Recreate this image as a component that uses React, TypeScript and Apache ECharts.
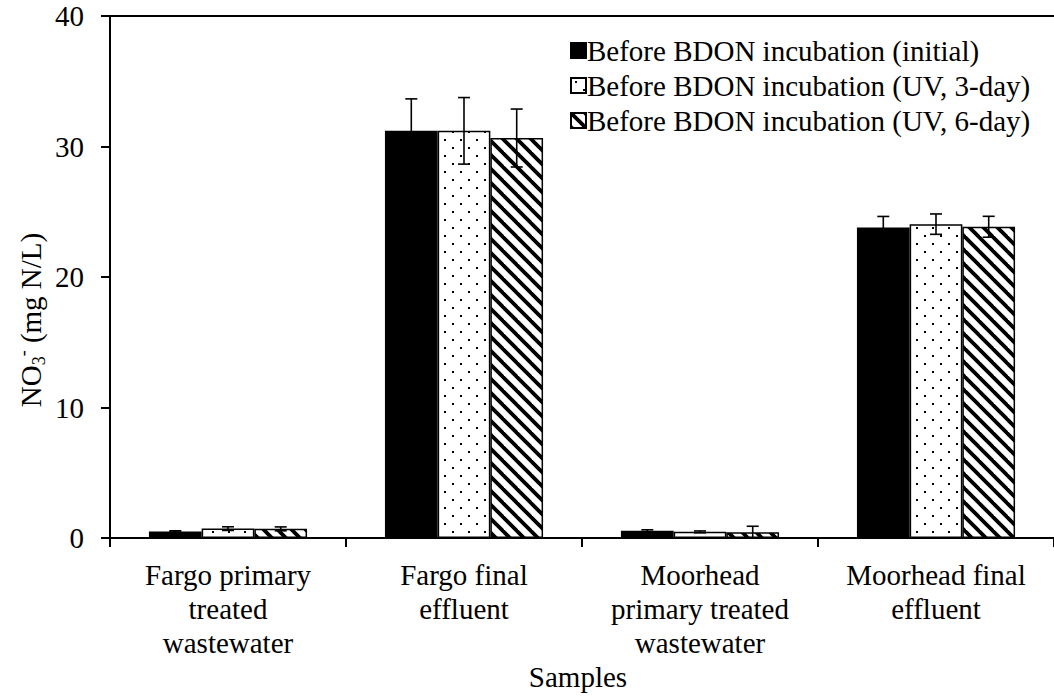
import React, { useEffect, useRef } from "react";
import * as echarts from "echarts";

const categories = [
  "Fargo primary\ntreated\nwastewater",
  "Fargo final\neffluent",
  "Moorhead\nprimary treated\nwastewater",
  "Moorhead final\neffluent",
];
const seriesNames = [
  "Before BDON incubation (initial)",
  "Before BDON incubation (UV, 3-day)",
  "Before BDON incubation (UV, 6-day)",
];
const initialValues = [0.5, 31.2, 0.55, 23.8];
const initialErrors = [0.05, 2.45, 0.08, 0.84];
const uv3Values = [0.72, 31.2, 0.47, 24.05];
const uv3Errors = [0.14, 2.55, 0.07, 0.78];
const uv6Values = [0.7, 30.65, 0.45, 23.85];
const uv6Errors = [0.15, 2.22, 0.45, 0.8];
const yTicks = { min: 0, max: 40, interval: 10 };

const FONT = '"Liberation Serif", "Times New Roman", serif';
const FS = 29;

function makeDots(): HTMLCanvasElement {
  const c = document.createElement("canvas");
  c.width = 16;
  c.height = 16;
  const g = c.getContext("2d")!;
  g.fillStyle = "#ffffff";
  g.fillRect(0, 0, 16, 16);
  g.fillStyle = "#000000";
  g.fillRect(4, 3, 2, 2);
  g.fillRect(12, 11, 2, 2);
  return c;
}

function makeStripes(): HTMLCanvasElement {
  const P = 14;
  const c = document.createElement("canvas");
  c.width = P;
  c.height = P;
  const g = c.getContext("2d")!;
  g.fillStyle = "#ffffff";
  g.fillRect(0, 0, P, P);
  g.strokeStyle = "#000000";
  g.lineWidth = 3.8;
  for (let k = -1; k <= 1; k++) {
    g.beginPath();
    g.moveTo(k * P - 3, -3);
    g.lineTo(k * P + P + 3, P + 3);
    g.stroke();
  }
  return c;
}

export default function App() {
  const ref = useRef<HTMLDivElement>(null);
  useEffect(() => {
    if (!ref.current) return;
    const chart = echarts.init(ref.current, null, { renderer: "svg" });
    const dots = makeDots();
    const stripes = makeStripes();
    const dotPattern: any = { image: dots, repeat: "repeat", imageWidth: 16, imageHeight: 16 };
    const stripePattern: any = { image: stripes, repeat: "repeat", imageWidth: 14, imageHeight: 14 };

    const values = [initialValues, uv3Values, uv6Values];
    const errors = [initialErrors, uv3Errors, uv6Errors];
    const fills: any[] = ["#000000", dotPattern, stripePattern];

    const errData: number[][] = [];
    values.forEach((vals, s) => {
      vals.forEach((v, c) => {
        errData.push([c, v, errors[s][c], s]);
      });
    });

    const barSeries = seriesNames.map((name, s) => ({
      name,
      type: "bar",
      data: values[s],
      barGap: "0%",
      barCategoryGap: "33%",
      itemStyle: { color: fills[s], borderColor: "#000000", borderWidth: 1.5 },
      z: 2,
    }));

    const option: any = {
      animation: false,
      backgroundColor: "#ffffff",
      textStyle: { fontFamily: FONT, color: "#000" },
      grid: { left: 110, top: 16, width: 949, bottom: 158, containLabel: false },
      legend: {
        data: seriesNames,
        orient: "vertical",
        left: 565,
        top: 31,
        itemWidth: 15,
        itemHeight: 15,
        itemGap: 6,
        icon: "rect",
        textStyle: { fontFamily: FONT, fontSize: FS, color: "#000", lineHeight: 29, padding: [0, 0, 0, -4] },
      },
      xAxis: [
        {
          type: "category",
          data: categories,
          position: "bottom",
          axisLine: { lineStyle: { color: "#000", width: 2 } },
          axisTick: { show: true, length: 9, lineStyle: { color: "#000", width: 2 } },
          axisLabel: {
            interval: 0,
            margin: 20,
            fontFamily: FONT,
            fontSize: FS,
            color: "#000",
            lineHeight: 34,
            align: "center",
          },
        },
        {
          type: "category",
          data: categories,
          position: "top",
          axisLine: { show: true, lineStyle: { color: "#000", width: 2 } },
          axisTick: { show: false },
          axisLabel: { show: false },
        },
      ],
      yAxis: {
        type: "value",
        min: yTicks.min,
        max: yTicks.max,
        interval: yTicks.interval,
        axisLine: { show: true, lineStyle: { color: "#000", width: 2 } },
        axisTick: { show: true, length: 9, lineStyle: { color: "#000", width: 2 } },
        splitLine: { show: false },
        axisLabel: { margin: 26, fontFamily: FONT, fontSize: FS, color: "#000" },
      },
      graphic: [
        {
          type: "text",
          x: 31,
          y: 320,
          rotation: Math.PI / 2,
          style: {
            text: "{a|NO}{sub|3}{sup|-}{a| (mg N/L)}",
            align: "center",
            verticalAlign: "middle",
            fill: "#000",
            rich: {
              a: { fontFamily: FONT, fontSize: FS, lineHeight: 34, fill: "#000" },
              sub: { fontFamily: FONT, fontSize: 18, lineHeight: 18, verticalAlign: "bottom", fill: "#000" },
              sup: { fontFamily: FONT, fontSize: 18, lineHeight: 18, verticalAlign: "top", fill: "#000" },
            },
          },
        },
        {
          type: "text",
          x: 578,
          y: 677,
          style: {
            text: "Samples",
            align: "center",
            verticalAlign: "middle",
            fontFamily: FONT,
            fontSize: FS,
            fill: "#000",
          },
        },
      ],
      series: [
        ...barSeries,
        {
          name: "error",
          type: "custom",
          data: errData,
          z: 5,
          silent: true,
          encode: { x: 0, y: 1 },
          renderItem: (params: any, api: any) => {
            const c = api.value(0);
            const v = api.value(1);
            const e = api.value(2);
            const s = api.value(3);
            const bandW = api.size([1, 0])[0];
            const barW = (bandW * 0.67) / 3;
            const base = api.coord([c, v]);
            const x = base[0] + (s - 1) * barW;
            const top = api.coord([c, v + e])[1];
            const bot = api.coord([c, Math.max(v - e, 0)])[1];
            const cap = 6;
            const st = { stroke: "#000", lineWidth: 1.6 };
            return {
              type: "group",
              children: [
                { type: "line", shape: { x1: x, y1: top, x2: x, y2: bot }, style: st },
                { type: "line", shape: { x1: x - cap, y1: top, x2: x + cap, y2: top }, style: st },
                { type: "line", shape: { x1: x - cap, y1: bot, x2: x + cap, y2: bot }, style: st },
              ],
            };
          },
        },
      ],
    };
    chart.setOption(option);
    return () => chart.dispose();
  }, []);
  return (
    <div
      ref={ref}
      style={{ position: "fixed", left: 0, top: 0, width: 1054, height: 696, background: "#fff" }}
    />
  );
}
